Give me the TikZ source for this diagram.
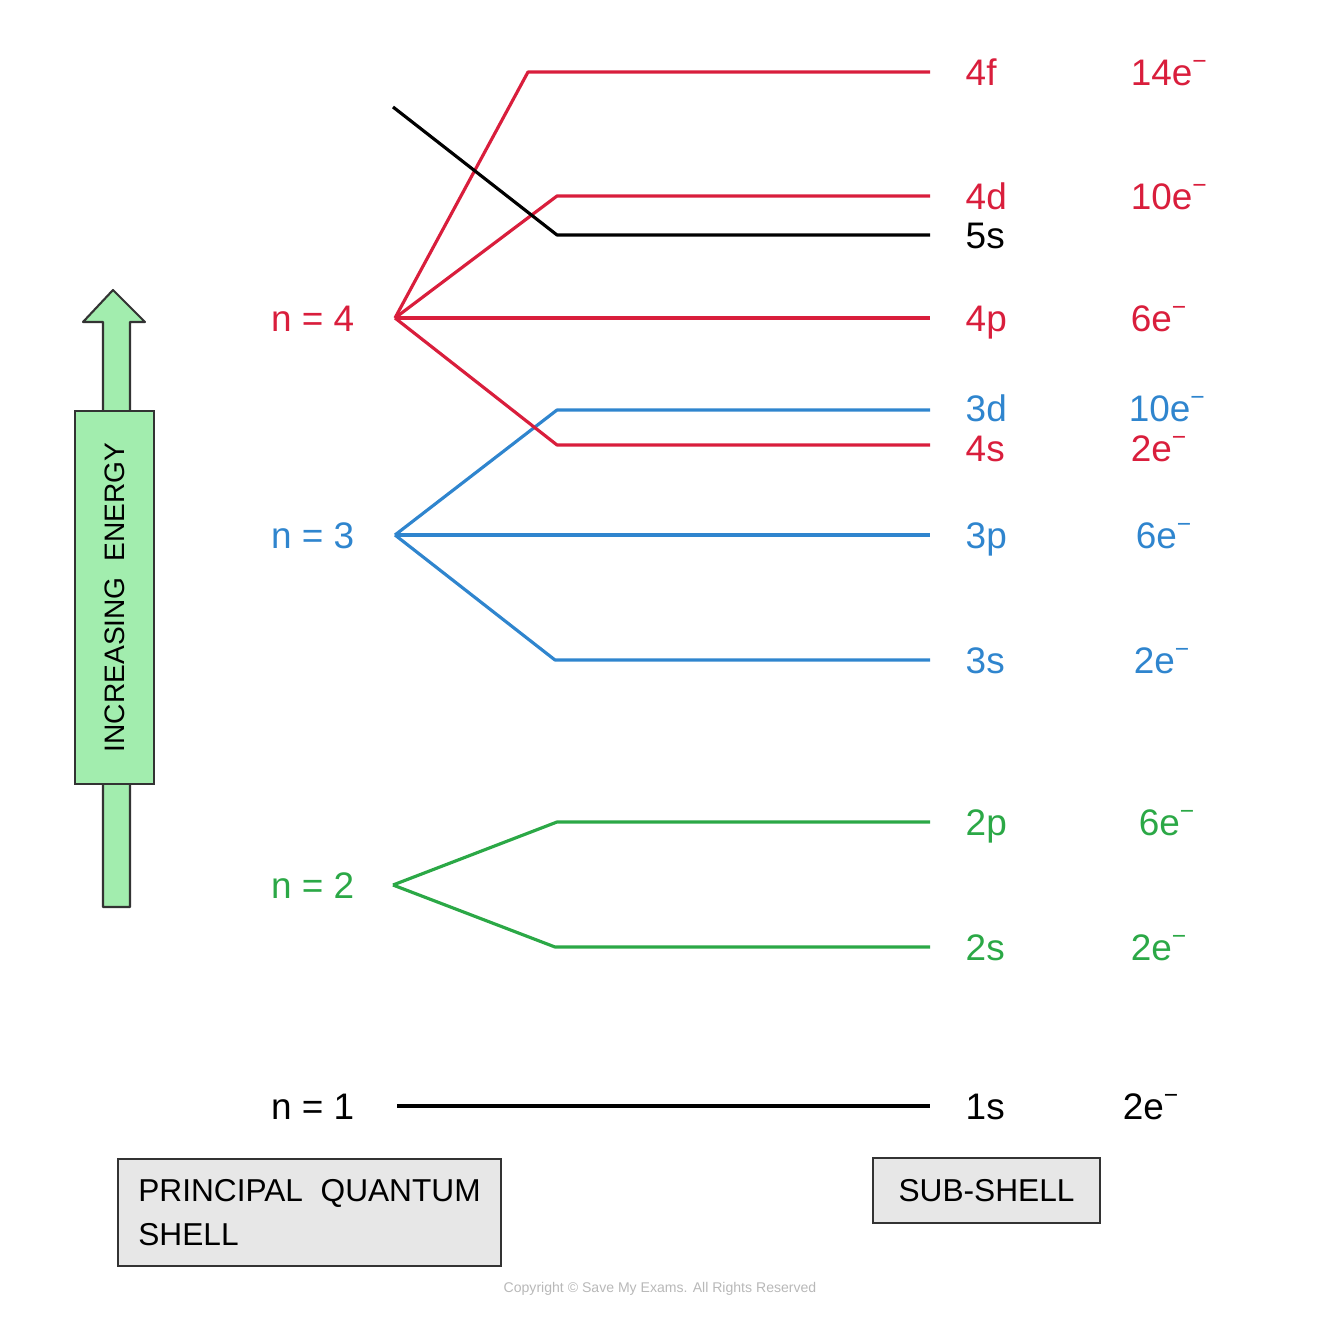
\documentclass[tikz,border=0pt]{standalone}
\usepackage{fontspec}
\setmainfont{Liberation Sans}
\usepackage{tikz}
\usetikzlibrary{positioning}
\definecolor{shellred}{HTML}{D91E3C}
\definecolor{shellblue}{HTML}{2F85CE}
\definecolor{shellgreen}{HTML}{2BA846}
\definecolor{arrowgreen}{HTML}{A2EDAE}
\definecolor{boxgrey}{HTML}{E7E7E7}
\definecolor{copygrey}{HTML}{B8B8B8}
\newcommand{\elec}[1]{#1e\raisebox{4.6pt}{\fontsize{7}{7}\selectfont −}}

\begin{document}
\begin{tikzpicture}[
    x=0.01cm, y=-0.01cm,
    every node/.style={font=\fontsize{10.5}{12}\selectfont, inner sep=0pt, text height=7.5pt, text depth=0pt},
    lvl/.style={line width=0.9pt, line join=round},                 % niveau
    sub/.style={anchor=west},                                       % sous-couche
    cnt/.style={anchor=west},                                       % electrons
    nlab/.style={anchor=east},                                      % n = ...
    capbox/.style={draw=black!80, fill=boxgrey, line width=0.6pt, align=left,
                   font=\fontsize{9}{12.5}\selectfont, text height=, text depth=},
    energybox/.style={draw=black!80, fill=arrowgreen, line width=0.6pt,
                   font=\fontsize{8}{9}\selectfont, text height=, text depth=,
                   minimum width=3.73cm, minimum height=0.79cm}
  ]
  \useasboundingbox (0,0) rectangle (1334,1334);

  % ============ points de depart des couches ===========================
  \coordinate (n4) at (395,318);
  \coordinate (n3) at (395,535);
  \coordinate (n2) at (393,885);
  \coordinate (n1) at (397,1106);
  \coordinate (s5s) at (393,107);

  \node[nlab, text=shellred,   left=0.40cm of n4] (ln4) {n = 4};
  \node[nlab, text=shellblue,  left=0.40cm of n3] (ln3) {n = 3};
  \node[nlab, text=shellgreen, left=0.38cm of n2] (ln2) {n = 2};
  \node[nlab, text=black,      left=0.42cm of n1] (ln1) {n = 1};

  % ============ coudes et extremites ===================================
  \coordinate (b4f) at (528,72);   \coordinate (e4f) at (930,72);
  \coordinate (b4d) at (557,196);  \coordinate (e4d) at (930,196);
  \coordinate (b5s) at (557,235);  \coordinate (e5s) at (930,235);
                                   \coordinate (e4p) at (930,318);
  \coordinate (b3d) at (557,410);  \coordinate (e3d) at (930,410);
  \coordinate (b4s) at (557,445);  \coordinate (e4s) at (930,445);
                                   \coordinate (e3p) at (930,535);
  \coordinate (b3s) at (555,660);  \coordinate (e3s) at (930,660);
  \coordinate (b2p) at (557,822);  \coordinate (e2p) at (930,822);
  \coordinate (b2s) at (555,947);  \coordinate (e2s) at (930,947);
                                   \coordinate (e1s) at (930,1106);

  % ============ n = 2 ==================================================
  \draw[lvl, shellgreen] (n2) -- (b2p) -- (e2p);
  \draw[lvl, shellgreen] (n2) -- (b2s) -- (e2s);
  % ============ n = 3 ==================================================
  \draw[lvl, shellblue] (n3) -- (b3d) -- (e3d);
  \draw[lvl, shellblue] (n3) -- (e3p);
  \draw[lvl, shellblue] (n3) -- (b3s) -- (e3s);
  % ============ n = 4 ==================================================
  \draw[lvl, shellred] (n4) -- (b4f) -- (e4f);
  \draw[lvl, shellred] (n4) -- (b4d) -- (e4d);
  \draw[lvl, shellred] (n4) -- (e4p);
  \draw[lvl, shellred] (n4) -- (b4s) -- (e4s);
  % ============ 5s et n = 1 ============================================
  \draw[lvl, black] (s5s) -- (b5s) -- (e5s);
  \draw[lvl, black] (n1) -- (e1s);

  % ============ etiquettes des sous-couches ============================
  \node[sub, text=shellred,   right=0.35cm of e4f] (l4f) {4f};
  \node[sub, text=shellred,   right=0.35cm of e4d] (l4d) {4d};
  \node[sub, text=black,      right=0.35cm of e5s] (l5s) {5s};
  \node[sub, text=shellred,   right=0.35cm of e4p] (l4p) {4p};
  \node[sub, text=shellblue,  right=0.35cm of e3d, yshift=0.02cm] (l3d) {3d};
  \node[sub, text=shellred,   right=0.35cm of e4s, yshift=-0.03cm] (l4s) {4s};
  \node[sub, text=shellblue,  right=0.35cm of e3p] (l3p) {3p};
  \node[sub, text=shellblue,  right=0.35cm of e3s] (l3s) {3s};
  \node[sub, text=shellgreen, right=0.35cm of e2p] (l2p) {2p};
  \node[sub, text=shellgreen, right=0.35cm of e2s] (l2s) {2s};
  \node[sub, text=black,      right=0.35cm of e1s] (l1s) {1s};

  \node[cnt, text=shellred,   right=2.00cm of e4f] (c4f) {\elec{14}};
  \node[cnt, text=shellred,   right=2.00cm of e4d] (c4d) {\elec{10}};
  \node[cnt, text=shellred,   right=2.00cm of e4p] (c4p) {\elec{6}};
  \node[cnt, text=shellblue,  right=1.98cm of e3d, yshift=0.02cm] (c3d) {\elec{10}};
  \node[cnt, text=shellred,   right=2.00cm of e4s, yshift=-0.03cm] (c4s) {\elec{2}};
  \node[cnt, text=shellblue,  right=2.05cm of e3p] (c3p) {\elec{6}};
  \node[cnt, text=shellblue,  right=2.03cm of e3s] (c3s) {\elec{2}};
  \node[cnt, text=shellgreen, right=2.08cm of e2p] (c2p) {\elec{6}};
  \node[cnt, text=shellgreen, right=2.00cm of e2s] (c2s) {\elec{2}};
  \node[cnt, text=black,      right=1.92cm of e1s] (c1s) {\elec{2}};

  % ============ fleche d'energie =======================================
  \filldraw[fill=arrowgreen, draw=black!80, line width=0.6pt, line join=round]
    (103,907) -- (103,322) -- (83,322) -- (113,290) -- (145,322) -- (130,322) -- (130,907) -- cycle;
  \node[energybox, rotate=90] (energy) at (114.5,597.5) {INCREASING\ \ ENERGY};

  % ============ legendes ===============================================
  \node[capbox, minimum width=3.83cm, minimum height=1.07cm] (pqs) at (309.5,1212.5)
    {PRINCIPAL\ \ QUANTUM\\SHELL\hspace*{2.15cm}};
  \node[capbox, minimum width=2.27cm, minimum height=0.65cm] (subs) at (986.5,1190.5)
    {SUB-SHELL};

  \node[font=\fontsize{4}{5}\selectfont, text=copygrey, text height=, text depth=] (copy)
    at (660,1289) {Copyright © Save My Exams. All Rights Reserved};

\end{tikzpicture}
\end{document}
